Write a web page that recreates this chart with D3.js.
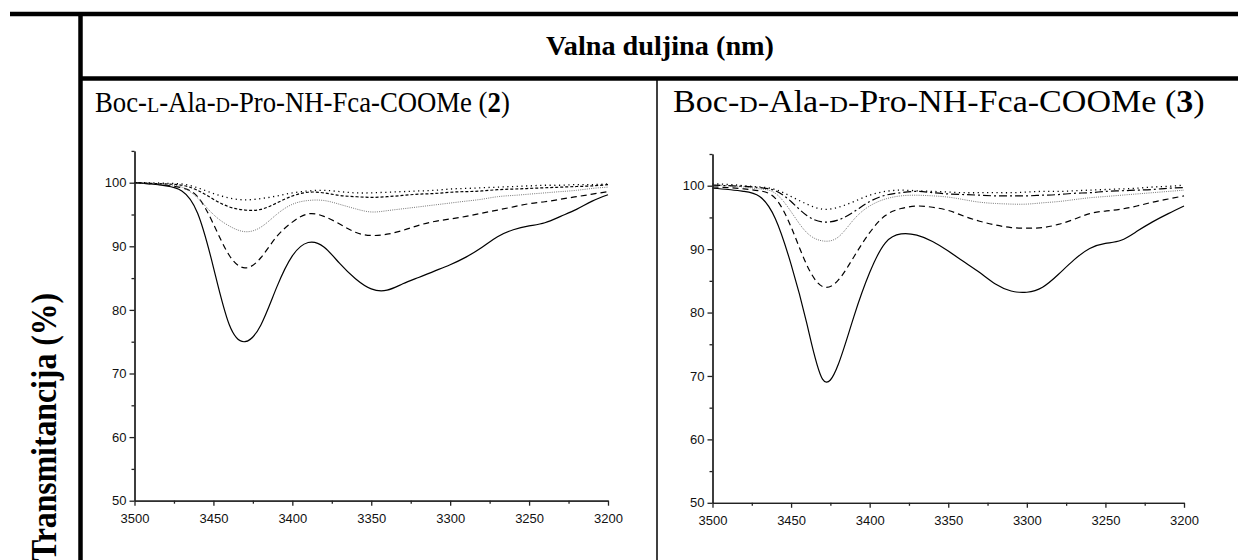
<!DOCTYPE html>
<html>
<head>
<meta charset="utf-8">
<script src="https://cdn.jsdelivr.net/npm/d3@7"></script>
<style>
body { margin: 0; background: #fff; }
svg { display: block; }
</style>
</head>
<body>
<div id="chart"></div>
<script>

// wavenumber grid (cm-1) shared by every trace
var wavenumbers = [3500, 3490, 3480, 3470, 3460, 3450, 3440, 3430, 3420, 3410,
                   3400, 3390, 3380, 3370, 3360, 3350, 3340, 3330, 3320, 3310,
                   3300, 3290, 3280, 3270, 3260, 3250, 3240, 3230, 3220, 3210, 3200];

// compound 2 (left panel), transmittance %
var left1 = [100.0, 99.8, 99.5, 98.7, 95.2, 86.7, 77.7, 75.0, 77.6, 83.5,
             88.5, 90.6, 89.9, 87.3, 84.9, 83.3, 83.1, 84.1, 85.1, 86.1,
             87.1, 88.3, 89.8, 91.5, 92.6, 93.2, 93.7, 94.7, 95.8, 97.1, 98.1];
var left2 = [100.0, 99.8, 99.6, 99.2, 97.8, 93.5, 88.6, 86.6, 88.2, 91.5,
             93.8, 95.1, 94.7, 93.5, 92.2, 91.7, 91.9, 92.5, 93.3, 93.9,
             94.3, 94.7, 95.2, 95.7, 96.2, 96.7, 97.0, 97.4, 97.8, 98.2, 98.6];
var left3 = [100.0, 99.9, 99.7, 99.3, 97.6, 95.0, 93.2, 92.3, 93.0, 95.0,
             96.6, 97.2, 97.2, 96.6, 95.9, 95.4, 95.6, 95.9, 96.2, 96.5,
             96.8, 97.1, 97.4, 97.8, 98.0, 98.2, 98.4, 98.6, 98.8, 99.1, 99.3];
var left4 = [100.0, 99.9, 99.8, 99.6, 98.8, 97.4, 96.2, 95.7, 95.8, 96.8,
             97.9, 98.5, 98.4, 98.0, 97.8, 97.7, 97.8, 98.0, 98.2, 98.3,
             98.5, 98.6, 98.7, 98.9, 99.0, 99.1, 99.2, 99.3, 99.4, 99.5, 99.7];
var left5 = [100.0, 100.0, 99.9, 99.8, 99.2, 98.3, 97.6, 97.3, 97.5, 97.9,
             98.4, 98.7, 98.8, 98.6, 98.4, 98.4, 98.5, 98.6, 98.7, 98.8,
             99.0, 99.1, 99.2, 99.3, 99.4, 99.5, 99.6, 99.6, 99.7, 99.7, 99.8];

// compound 3 (right panel), transmittance %
var right1 = [99.6, 99.4, 99.1, 98.3, 94.8, 87.6, 78.3, 69.5, 71.8, 79.4,
              86.3, 91.0, 92.4, 92.2, 91.2, 89.7, 88.0, 86.3, 84.5, 83.4,
              83.2, 84.0, 86.0, 88.3, 90.1, 90.9, 91.4, 92.8, 94.3, 95.6, 96.8];
var right2 = [99.8, 99.7, 99.5, 99.2, 98.0, 93.5, 87.5, 84.1, 85.1, 88.8,
              92.6, 95.3, 96.4, 96.8, 96.6, 96.1, 95.2, 94.4, 93.8, 93.4,
              93.3, 93.4, 93.9, 94.7, 95.6, 96.0, 96.3, 96.8, 97.4, 97.9, 98.4];
var right3 = [100.1, 100.0, 99.8, 99.5, 98.8, 95.9, 92.6, 91.3, 91.9, 94.7,
              96.8, 97.9, 98.4, 98.5, 98.4, 98.2, 97.8, 97.4, 97.2, 97.1,
              97.1, 97.3, 97.5, 97.8, 98.1, 98.3, 98.5, 98.7, 98.9, 99.1, 99.3];
var right4 = [100.1, 100.0, 99.9, 99.7, 99.2, 97.5, 95.3, 94.3, 94.6, 95.9,
              97.5, 98.5, 98.9, 99.1, 98.9, 98.7, 98.6, 98.5, 98.4, 98.4,
              98.4, 98.5, 98.6, 98.8, 98.9, 99.1, 99.2, 99.3, 99.4, 99.6, 99.7];
var right5 = [100.3, 100.2, 100.0, 99.8, 99.4, 98.3, 97.1, 96.3, 96.6, 97.5,
              98.5, 99.1, 99.3, 99.2, 99.1, 99.0, 98.9, 98.9, 98.9, 98.9,
              99.0, 99.1, 99.1, 99.2, 99.3, 99.4, 99.5, 99.6, 99.8, 99.9, 100.1];

var xTicks = [3500, 3450, 3400, 3350, 3300, 3250, 3200];
var xMinorTicks = [3475, 3425, 3375, 3325, 3275, 3225];
var yTicks = [50, 60, 70, 80, 90, 100];
var yMinorTicks = [55, 65, 75, 85, 95, 105];

var headerText = "Valna duljina (nm)";
var yAxisText = "Transmitancija (%)";

var W = 1238, H = 560;
var serif = "'Liberation Serif', 'Times New Roman', serif";

var svg = d3.select("#chart").append("svg")
    .attr("width", W)
    .attr("height", H);

// line styles per trace
var styles = {
  solid:   {stroke: "#000", width: 1.2, dash: null},
  dashed:  {stroke: "#000", width: 1.2, dash: "6,4"},
  grey:    {stroke: "#777", width: 1,   dash: "1,1.2"},
  short:   {stroke: "#000", width: 1.2, dash: "3,2"},
  dots:    {stroke: "#000", width: 1.3, dash: "1.2,3.5"},
  dashdot: {stroke: "#000", width: 1.2, dash: "8,3,2,3"}
};

// ---- frame (table borders) ----
var frame = svg.append("g");
frame.append("line").attr("x1", 10).attr("x2", W).attr("y1", 14).attr("y2", 14)
    .attr("stroke", "#000").attr("stroke-width", 4.5);
frame.append("line").attr("x1", 80.5).attr("x2", 80.5).attr("y1", 12).attr("y2", H)
    .attr("stroke", "#000").attr("stroke-width", 4.5);
frame.append("line").attr("x1", 80).attr("x2", W).attr("y1", 78.5).attr("y2", 78.5)
    .attr("stroke", "#000").attr("stroke-width", 4.5);
frame.append("line").attr("x1", 657).attr("x2", 657).attr("y1", 80).attr("y2", H)
    .attr("stroke", "#000").attr("stroke-width", 1.5);

svg.append("text")
    .attr("x", 660).attr("y", 55)
    .attr("text-anchor", "middle")
    .attr("textLength", 228)
    .attr("lengthAdjust", "spacingAndGlyphs")
    .style("font-family", serif)
    .style("font-weight", "bold")
    .style("font-size", "28px")
    .text(headerText);

svg.append("text")
    .attr("transform", "translate(56,561) rotate(-90)")
    .attr("textLength", 268)
    .attr("lengthAdjust", "spacingAndGlyphs")
    .style("font-family", serif)
    .style("font-weight", "bold")
    .style("font-size", "36px")
    .text(yAxisText);

// panel title, squeezed sideways to the width it has in the picture
function title(x, first, num, size, width) {
  var t = svg.append("text")
      .style("font-family", serif)
      .style("font-size", size + "px");
  t.append("tspan").text("Boc-");
  t.append("tspan").style("font-size", (size * 0.75) + "px").text(first);
  t.append("tspan").text("-Ala-");
  t.append("tspan").style("font-size", (size * 0.75) + "px").text("D");
  t.append("tspan").text("-Pro-NH-Fca-COOMe (");
  t.append("tspan").style("font-weight", "bold").text(num);
  t.append("tspan").text(")");
  var len = t.node().getComputedTextLength();
  t.attr("transform", "translate(" + x + ",112) scale(" + (width / len) + ",1)");
}
title(95, "L", "2", 29, 415);
title(673, "D", "3", 31, 532);

function drawPanel(cfg) {
  var x = d3.scaleLinear().domain([3500, 3200]).range(cfg.xr);
  var y = d3.scaleLinear().domain([50, 105]).range(cfg.yr);
  var g = svg.append("g");

  var line = d3.line()
      .x(function(d) { return x(d[0]); })
      .y(function(d) { return y(d[1]); })
      .curve(d3.curveNatural);

  cfg.series.forEach(function(s) {
    var st = styles[s.style];
    var pts = wavenumbers.map(function(w, i) { return [w, s.values[i]]; });
    g.append("path")
        .datum(pts)
        .attr("d", line)
        .attr("fill", "none")
        .attr("stroke", st.stroke)
        .attr("stroke-width", st.width)
        .attr("stroke-dasharray", st.dash);
  });

  // axes
  g.append("g")
      .attr("transform", "translate(" + cfg.xr[0] + ",0)")
      .call(d3.axisLeft(y).tickValues(yTicks).tickSize(5).tickSizeOuter(0).tickPadding(3));
  g.append("g")
      .attr("transform", "translate(" + cfg.xr[0] + ",0)")
      .call(d3.axisLeft(y).tickValues(yMinorTicks).tickSize(3).tickSizeOuter(0).tickFormat(""));

  g.append("g")
      .attr("transform", "translate(0," + cfg.yr[0] + ")")
      .call(d3.axisBottom(x).tickValues(xTicks).tickSize(5).tickSizeOuter(0)
            .tickPadding(8).tickFormat(d3.format("d")));
  g.append("g")
      .attr("transform", "translate(0," + cfg.yr[0] + ")")
      .call(d3.axisBottom(x).tickValues(xMinorTicks).tickSize(3).tickSizeOuter(0).tickFormat(""));

  g.selectAll(".domain, .tick line")
      .attr("stroke", "#222")
      .attr("stroke-width", 1.3);
  g.selectAll(".tick text")
      .attr("fill", "#111")
      .style("font-family", "'Liberation Sans', Arial, sans-serif")
      .style("font-size", "13px");
}

drawPanel({
  xr: [134.5, 608],
  yr: [500.7, 150.9],
  series: [
    {values: left1, style: "solid"},
    {values: left2, style: "dashed"},
    {values: left3, style: "grey"},
    {values: left4, style: "short"},
    {values: left5, style: "dots"}
  ]
});

drawPanel({
  xr: [712.5, 1184],
  yr: [502.8, 154.0],
  series: [
    {values: right1, style: "solid"},
    {values: right2, style: "dashed"},
    {values: right3, style: "grey"},
    {values: right4, style: "dashdot"},
    {values: right5, style: "dots"}
  ]
});

</script>
</body>
</html>
